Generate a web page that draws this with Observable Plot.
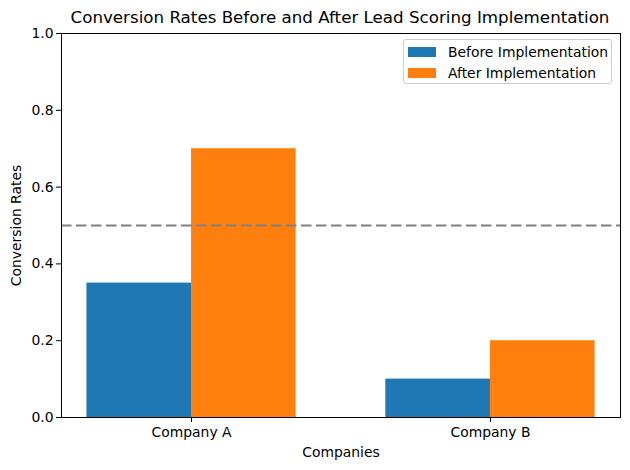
<!DOCTYPE html>
<html>
<head>
<meta charset="utf-8">
<script src="https://cdn.jsdelivr.net/npm/d3@7"></script>
<script src="https://cdn.jsdelivr.net/npm/@observablehq/plot@0.6"></script>
<style>
  html, body { margin: 0; padding: 0; background: #fff; }
  #wrap { position: relative; width: 630px; height: 470px; font-family: "DejaVu Sans", sans-serif; }
  #title { box-sizing: border-box; height: 26px; padding-top: 9px; font-size: 16.7px; line-height: 17px; text-align: center; padding-left: 50px; color: #000; white-space: nowrap; }
  #legend { position: absolute; left: 403px; top: 39px; width: 209px; height: 45px; border: 1px solid #ccc; border-radius: 3px; background: rgba(255,255,255,0.8); box-sizing: border-box; font-size: 13.9px; }
  .item { position: absolute; left: 4px; height: 14px; display: flex; align-items: center; white-space: nowrap; }
  .sw { width: 28px; height: 10px; margin-right: 12px; }
</style>
</head>
<body>
<div id="wrap">
  <div id="title">Conversion Rates Before and After Lead Scoring Implementation</div>
  <div id="chart"></div>
  <div id="legend"></div>
</div>
<script>
const companies = ["Company A", "Company B"];
const series = ["Before Implementation", "After Implementation"];
const beforeValues = [0.35, 0.10];
const afterValues = [0.70, 0.20];
const colors = ["#1f77b4", "#ff7f0e"];
const threshold = 0.5;
const yTicks = [0, 0.2, 0.4, 0.6, 0.8, 1.0];
const barWidth = 0.35;

const data = companies.flatMap((c, i) => [
  {company: c, series: series[0], value: beforeValues[i], x1: i - barWidth, x2: i},
  {company: c, series: series[1], value: afterValues[i], x1: i, x2: i + barWidth}
]);

const pad = (1 + 2 * barWidth) * 0.05;
const chart = Plot.plot({
  width: 630,
  height: 444,
  marginTop: 7,
  marginLeft: 61,
  marginRight: 10,
  marginBottom: 53,
  style: {fontFamily: "DejaVu Sans, sans-serif", fontSize: "13.9px", color: "#000", background: "transparent"},
  x: {domain: [-barWidth - pad, companies.length - 1 + barWidth + pad]},
  y: {domain: [0, 1]},
  color: {domain: series, range: colors},
  marks: [
    Plot.rect(data, {x1: "x1", x2: "x2", y1: 0, y2: "value", fill: "series"}),
    Plot.ruleY([threshold], {stroke: "gray", strokeWidth: 2, strokeDasharray: "10.5,4.5"}),
    Plot.frame({stroke: "#000", strokeWidth: 1}),
    Plot.axisX({ticks: companies.map((c, i) => i), tickFormat: i => companies[i], tickSize: 5, tickPadding: 5, label: null, stroke: "#000"}),
    Plot.axisY({ticks: yTicks, tickFormat: d3.format(".1f"), tickSize: 5, tickPadding: 3, label: null, stroke: "#000"}),
    Plot.text(["Companies"], {frameAnchor: "bottom", dy: 35, lineAnchor: "middle", fill: "#000"}),
    Plot.text(["Conversion Rates"], {frameAnchor: "left", dx: -45, rotate: -90, lineAnchor: "middle", textAnchor: "middle", fill: "#000"})
  ]
});
document.getElementById("chart").appendChild(chart);

const legend = document.getElementById("legend");
series.forEach((s, i) => {
  const item = document.createElement("div");
  item.className = "item";
  item.style.top = (5 + i * 21) + "px";
  const sw = document.createElement("div");
  sw.className = "sw";
  sw.style.background = colors[i];
  const label = document.createElement("span");
  label.textContent = s;
  item.appendChild(sw);
  item.appendChild(label);
  legend.appendChild(item);
});
</script>
</body>
</html>
